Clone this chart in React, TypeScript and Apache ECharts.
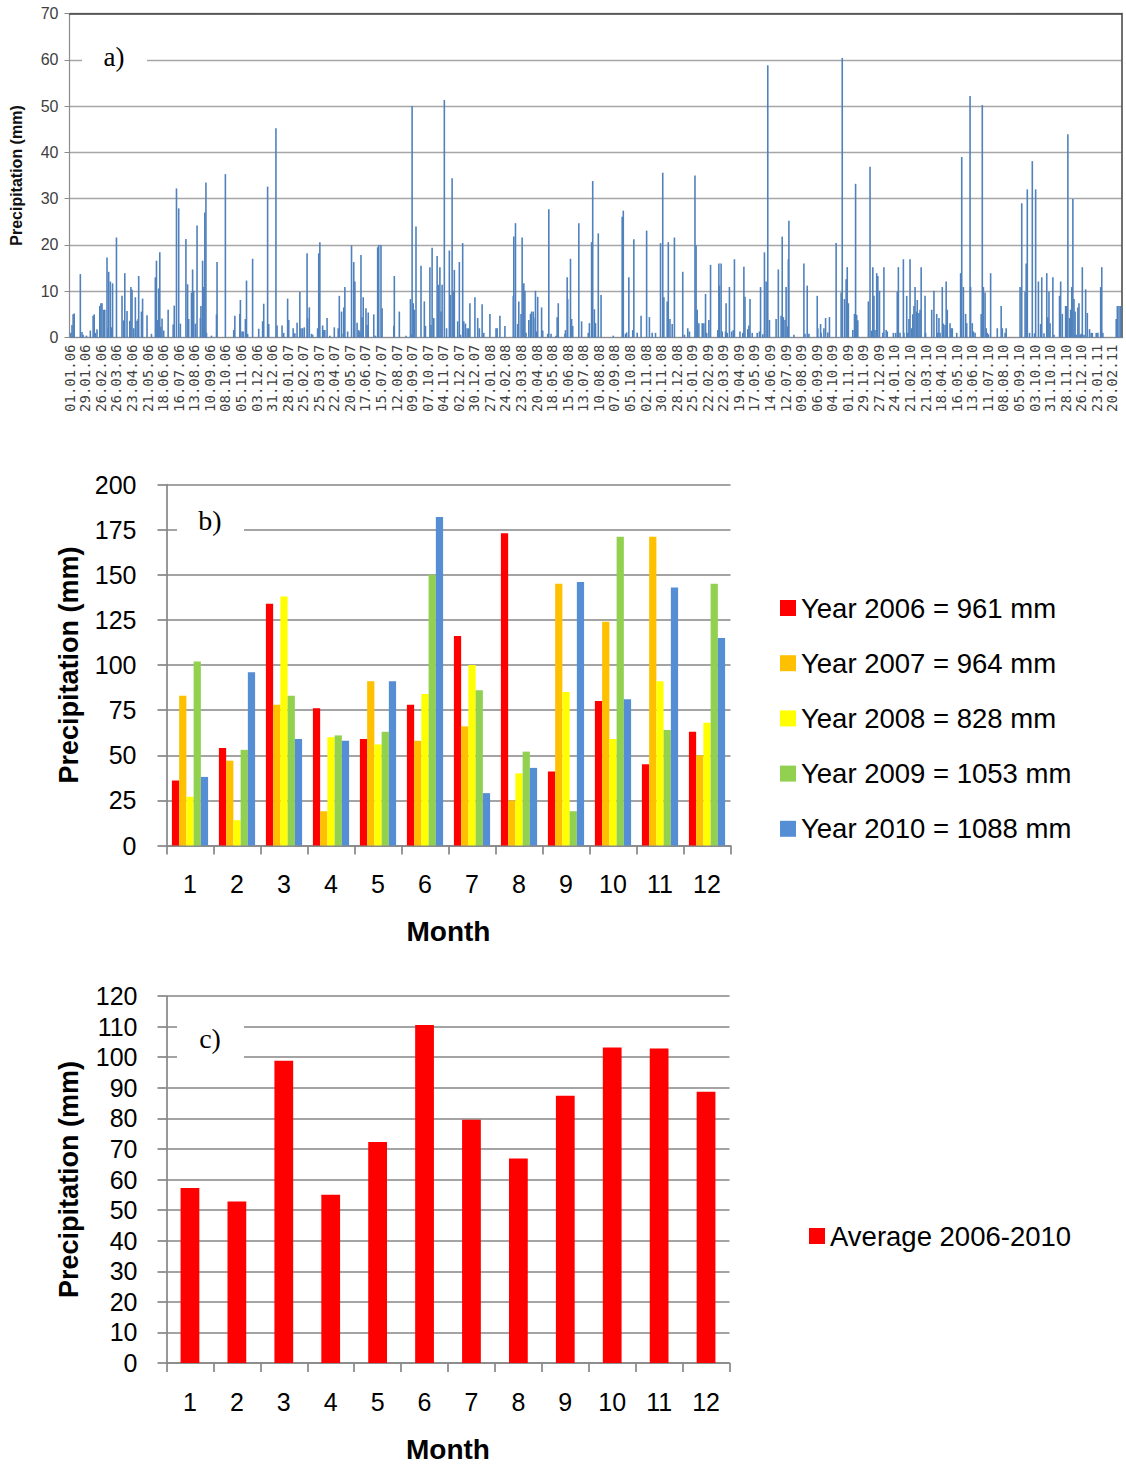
import React, { useEffect, useRef } from "react";
import * as echarts from "echarts";

// ---------- Panel a: daily precipitation (day index from 01.01.2006, mm) ----------
const START_UTC = Date.UTC(2006, 0, 1);
const DAY_COUNT = 1893;

const rain2006 = [
  [2, 1], [4, 2.7], [6, 5], [8, 5.2], [19, 13.7], [22, 1.2], [24, 0.6], [30, 0.4], [37, 1.5], [42, 4.7], [44, 5], [46, 1], [49, 1.8],
  [54, 6.8], [56, 7.4], [58, 7.4], [61, 6], [63, 6], [67, 17.3], [69, 2], [70, 14.2], [73, 12.1], [75, 2.2], [77, 11.7], [84, 21.6],
  [94, 9], [97, 3.7], [99, 13.9], [103, 5.7], [108, 3.6], [110, 10.9], [112, 10.3], [115, 2], [118, 8.7], [121, 3.6], [123, 4],
  [124, 13.3], [129, 5.6], [131, 8.4], [139, 4.8], [147, 0.8], [154, 13], [156, 16.6], [158, 3.8], [160, 10.6], [162, 18.4],
  [164, 2.3], [166, 4.1], [169, 1.5], [177, 6], [186, 2.8], [188, 6.9], [192, 32.2], [196, 27.9], [199, 3], [209, 21.3], [212, 11.5],
  [214, 4], [219, 9.7], [221, 14.7], [223, 10.1], [226, 3], [229, 24.2], [235, 4.2], [236, 6.8], [239, 16.6], [240, 10.9], [243, 27],
  [245, 33.5], [246, 1], [255, 0.4], [264, 5], [265, 16.3], [280, 35.3], [295, 1.6], [297, 4.7], [306, 5.1], [307, 8.1], [310, 1.3],
  [312, 1.3], [316, 4], [318, 12.3], [320, 0.8], [329, 17], [340, 1.9], [347, 3.5], [349, 7.3], [356, 32.6], [358, 2.9],
];
const rain2007 = [
  [371, 45.2], [373, 2.6], [382, 2.6], [385, 1], [392, 8.4], [394, 3.8], [402, 2], [405, 0.9], [409, 3.2], [414, 9.9], [416, 2],
  [419, 2], [422, 2.2], [427, 18.2], [428, 4.2], [431, 6.5], [435, 0.8], [437, 0.6], [446, 2], [448, 18.2], [450, 20.6], [455, 2.6],
  [457, 1.6], [459, 1.6], [463, 4.2], [468, 0.4], [476, 2.2], [483, 2], [485, 9], [489, 5.6], [492, 0.8], [493, 6.5], [495, 10.9],
  [500, 1.3], [507, 19.9], [511, 16.3], [513, 12.1], [517, 3.2], [520, 1.6], [522, 1.3], [524, 17.8], [526, 4.4], [528, 8.7],
  [533, 6.3], [535, 2.7], [537, 5.4], [547, 5], [550, 0.4], [554, 19.5], [556, 20], [560, 20], [562, 6.3], [583, 2.5], [584, 13.3],
  [593, 5.6], [605, 0.4], [613, 8.3], [615, 0.7], [616, 50], [618, 7.4], [620, 6], [623, 24], [632, 15.5], [638, 7.8], [640, 2.5],
  [648, 15.2], [650, 2.7], [652, 19.4], [655, 4.2], [661, 17.6], [663, 11.4], [666, 15.2], [668, 5.6], [670, 11.4], [674, 51.3],
  [678, 2], [683, 18.8], [685, 9.2], [688, 34.4], [690, 10.1], [692, 14.6], [698, 3.5], [701, 16.3], [703, 0.6], [707, 20.4],
  [709, 3.5], [712, 3], [715, 2], [718, 2], [720, 7.4], [729, 8.7],
];
const rain2008 = [
  [734, 4.2], [737, 2], [742, 7.2], [745, 1], [756, 5.1], [767, 2], [769, 2], [774, 4.7], [783, 2.5], [798, 9], [799, 21.8],
  [802, 24.7], [806, 2.9], [808, 7.8], [812, 5.1], [814, 21.6], [817, 11.7], [819, 10.1], [821, 1], [826, 3.8], [829, 5.1],
  [831, 5.6], [834, 5.6], [835, 4.3], [838, 10.1], [840, 1.3], [842, 8.8], [849, 6.5], [851, 1.5], [860, 0.8], [862, 27.7],
  [866, 0.8], [875, 0.4], [877, 4.4], [879, 7.4], [891, 0.8], [892, 1.6], [895, 13], [896, 8.3], [901, 17], [903, 4], [905, 2.5],
  [916, 24.7], [921, 3.5], [933, 1], [935, 3.1], [939, 20.6], [941, 33.8], [944, 6.1], [946, 3.1], [951, 22.5], [956, 9.2],
  [978, 0.4], [994, 26.1], [996, 27.4], [1000, 0.8], [1002, 1.1], [1006, 13], [1013, 1.6], [1015, 21.2], [1021, 1], [1028, 4.7],
  [1038, 23.1], [1043, 4.4], [1048, 1], [1054, 1], [1063, 20.4], [1067, 35.6], [1069, 8.7], [1075, 7.8], [1077, 20.6], [1080, 4],
  [1084, 2.9], [1088, 21.6],
];
const rain2009 = [
  [1103, 14.2], [1106, 0.6], [1112, 2], [1115, 1.3], [1125, 35], [1127, 19.9], [1129, 6], [1132, 3.1], [1138, 3.1], [1141, 3.1],
  [1144, 9.4], [1146, 1], [1150, 3.8], [1153, 15.7], [1166, 1.6], [1168, 16], [1169, 11.2], [1172, 16], [1174, 1.3], [1180, 1.3],
  [1181, 7.4], [1183, 1], [1187, 10.9], [1191, 1.3], [1194, 1.6], [1196, 16.9], [1206, 1.3], [1211, 1], [1213, 15.3], [1215, 8.8],
  [1220, 1.8], [1222, 2.6], [1224, 8.3], [1228, 1], [1237, 1], [1241, 1.3], [1243, 10.9], [1247, 0.7], [1250, 18.4], [1253, 12.1],
  [1256, 58.8], [1259, 3.8], [1271, 4], [1275, 14.7], [1280, 4.7], [1282, 21.8], [1284, 4.4], [1287, 3.8], [1289, 10.9],
  [1292, 2.4], [1293, 16.9], [1294, 25.2], [1303, 0.6], [1321, 16], [1323, 0.8], [1327, 11.2], [1330, 0.8], [1345, 9], [1346, 2],
  [1351, 2.9], [1352, 1], [1357, 2], [1360, 4.2], [1364, 1.1], [1367, 4.4], [1379, 20.4], [1388, 9.7], [1390, 60.4], [1394, 8.3],
  [1397, 12.6], [1399, 15.2], [1401, 7.4], [1409, 1.6], [1412, 5.1], [1414, 33.2], [1416, 4.9], [1418, 3.7], [1437, 7.8],
  [1440, 36.9], [1443, 1.5], [1445, 15.2], [1447, 9], [1449, 1.6], [1452, 13.9], [1454, 13.3], [1457, 10.1],
];
const rain2010 = [
  [1463, 1], [1465, 15.2], [1469, 1.6], [1471, 1.3], [1482, 1], [1486, 1], [1489, 9.9], [1491, 15.2], [1494, 1], [1500, 16.9],
  [1501, 1], [1506, 9], [1508, 1], [1510, 4], [1512, 16.9], [1515, 2], [1517, 5], [1519, 6.8], [1521, 10.9], [1524, 5.6],
  [1525, 8.1], [1528, 5.3], [1530, 6], [1532, 15.2], [1539, 9], [1540, 1], [1551, 6], [1555, 10.1], [1560, 5.1], [1562, 1],
  [1564, 4.2], [1566, 1], [1570, 10.9], [1572, 3], [1575, 2.7], [1577, 12.1], [1579, 6], [1584, 3.1], [1586, 2], [1588, 2],
  [1596, 1], [1603, 13.9], [1605, 39], [1608, 10.9], [1612, 5.1], [1614, 3.1], [1620, 52.2], [1621, 10.9], [1624, 3.1],
  [1626, 1.3], [1629, 1], [1640, 5.1], [1642, 50.2], [1644, 10.9], [1647, 9.7], [1649, 2], [1651, 1], [1653, 0.7], [1657, 13.9],
  [1669, 2], [1676, 6.8], [1678, 2], [1683, 1], [1685, 2], [1710, 10.9], [1713, 29], [1719, 9.9], [1721, 16], [1723, 32],
  [1727, 1], [1732, 38.1], [1736, 0.9], [1738, 32], [1743, 12.1], [1747, 2.9], [1749, 13], [1753, 0.9], [1758, 13.9], [1760, 4.4],
  [1762, 9.9], [1764, 3.1], [1769, 13], [1771, 0.6], [1781, 9], [1783, 12.1], [1786, 5.1], [1792, 6.8], [1794, 6.8], [1796, 43.9],
  [1799, 4.2], [1801, 6], [1803, 10.9], [1805, 29.9], [1807, 8.3], [1809, 5.6], [1811, 0.6], [1814, 6.5], [1816, 7.4], [1818, 0.6],
  [1820, 0.8], [1822, 15.2], [1825, 0.6],
];
const rain2011 = [
  [1828, 10.4], [1831, 5.3], [1835, 1.8], [1838, 1], [1840, 1], [1847, 1], [1850, 1], [1855, 10.9], [1857, 15.2], [1859, 1],
  [1883, 4], [1885, 6.8], [1888, 6.8], [1891, 6.8],
];

// ---------- Panel b: monthly totals per year ----------
const months = ["1", "2", "3", "4", "5", "6", "7", "8", "9", "10", "11", "12"];
const year2006 = [36, 54, 134, 76, 59, 78, 116, 173, 41, 80, 45, 63];
const year2007 = [83, 47, 78, 19, 91, 58, 66, 25, 145, 124, 171, 50];
const year2008 = [27, 14, 138, 60, 56, 84, 100, 40, 85, 59, 91, 68];
const year2009 = [102, 53, 83, 61, 63, 150, 86, 52, 19, 171, 64, 145];
const year2010 = [38, 96, 59, 58, 91, 182, 29, 43, 146, 81, 143, 115];
const yearNames = [
  "Year 2006 = 961 mm",
  "Year 2007 = 964 mm",
  "Year 2008 = 828 mm",
  "Year 2009 = 1053 mm",
  "Year 2010 = 1088 mm",
];
const yearColors = ["#FF0000", "#FFC000", "#FFFF00", "#92D050", "#558ED5"];

// ---------- Panel c: monthly average ----------
const average = [57.2, 52.8, 98.8, 55, 72.3, 110.5, 79.5, 66.9, 87.4, 103.2, 102.8, 88.7];
const averageName = "Average 2006-2010";

const pad = (n: number) => (n < 10 ? "0" + n : "" + n);

export default function App() {
  const ref = useRef<HTMLDivElement>(null);

  useEffect(() => {
    if (!ref.current) return;
    const chart = echarts.init(ref.current, null, { renderer: "svg" });

    const dayLabels: string[] = [];
    for (let i = 0; i < DAY_COUNT; i++) {
      const d = new Date(START_UTC + i * 86400000);
      dayLabels.push(
        pad(d.getUTCDate()) + "." + pad(d.getUTCMonth() + 1) + "." + pad(d.getUTCFullYear() % 100)
      );
    }
    const daily: (number | null)[] = new Array(DAY_COUNT).fill(null);
    [rain2006, rain2007, rain2008, rain2009, rain2010, rain2011].forEach((arr) =>
      arr.forEach(([day, mm]) => {
        daily[day] = mm;
      })
    );

    const sans = "Liberation Sans, Arial, sans-serif";
    const serif = "Liberation Serif, Times New Roman, serif";
    const gridGray = "#868686";

    const yearSeries = [year2006, year2007, year2008, year2009, year2010].map((vals, i) => ({
      type: "bar",
      name: yearNames[i],
      xAxisIndex: 2,
      yAxisIndex: 2,
      data: vals,
      barGap: "0%",
      barCategoryGap: "23%",
      itemStyle: { color: yearColors[i] },
    }));

    const option: any = {
      animation: false,
      backgroundColor: "#ffffff",
      grid: [
        { left: 69.5, top: 13.5, width: 1052, height: 324 },
        { left: 166.5, top: 484.5, width: 564, height: 361 },
        { left: 166.5, top: 996, width: 563, height: 367 },
      ],
      xAxis: [
        {
          gridIndex: 0,
          type: "category",
          data: dayLabels,
          boundaryGap: true,
          axisLine: { lineStyle: { color: "#8c8c8c", width: 1.2 } },
          axisTick: { interval: 27, length: 5, lineStyle: { color: "#8c8c8c" } },
          axisLabel: {
            interval: 27,
            rotate: 90,
            fontSize: 14,
            fontFamily: "DejaVu Sans Mono, monospace",
            color: "#404040",
            margin: 7,
          },
          splitLine: { show: false },
        },
        {
          gridIndex: 0,
          type: "value",
          position: "top",
          min: 0,
          max: 1,
          axisLine: { show: true, onZero: false, lineStyle: { color: "#404040", width: 1.5 } },
          axisTick: { show: false },
          axisLabel: { show: false },
          splitLine: { show: false },
        },
        {
          gridIndex: 1,
          type: "category",
          data: months,
          axisLine: { lineStyle: { color: gridGray, width: 1.7 } },
          axisTick: { show: true, interval: 0, length: 9, lineStyle: { color: gridGray, width: 1.7 } },
          axisLabel: { fontSize: 25, fontFamily: sans, color: "#000", margin: 26 },
          name: "Month",
          nameLocation: "middle",
          nameGap: 72,
          nameTextStyle: { fontSize: 28, fontWeight: "bold", fontFamily: sans, color: "#000" },
        },
        {
          gridIndex: 2,
          type: "category",
          data: months,
          axisLine: { lineStyle: { color: gridGray, width: 1.7 } },
          axisTick: { show: true, interval: 0, length: 9, lineStyle: { color: gridGray, width: 1.7 } },
          axisLabel: { fontSize: 25, fontFamily: sans, color: "#000", margin: 26 },
          name: "Month",
          nameLocation: "middle",
          nameGap: 72,
          nameTextStyle: { fontSize: 28, fontWeight: "bold", fontFamily: sans, color: "#000" },
        },
      ],
      yAxis: [
        {
          gridIndex: 0,
          type: "value",
          min: 0,
          max: 70,
          interval: 10,
          axisLine: { show: true, lineStyle: { color: "#8c8c8c", width: 1.2 } },
          axisTick: { show: true, length: 5, lineStyle: { color: "#8c8c8c" } },
          axisLabel: { fontSize: 16, fontFamily: sans, color: "#404040", margin: 11 },
          splitLine: { lineStyle: { color: "#a6a6a6", width: 1.3 } },
          name: "Precipitation (mm)",
          nameLocation: "middle",
          nameGap: 45,
          nameTextStyle: { fontSize: 16, fontWeight: "bold", fontFamily: sans, color: "#111" },
        },
        {
          gridIndex: 0,
          type: "value",
          position: "right",
          min: 0,
          max: 70,
          axisLine: { show: true, onZero: false, lineStyle: { color: "#404040", width: 1.5 } },
          axisTick: { show: false },
          axisLabel: { show: false },
          splitLine: { show: false },
        },
        {
          gridIndex: 1,
          type: "value",
          min: 0,
          max: 200,
          interval: 25,
          axisLine: { show: true, lineStyle: { color: gridGray, width: 1.7 } },
          axisTick: { show: true, length: 9, lineStyle: { color: gridGray, width: 1.7 } },
          axisLabel: { fontSize: 25, fontFamily: sans, color: "#000", margin: 30 },
          splitLine: { lineStyle: { color: gridGray, width: 1.7 } },
          name: "Precipitation (mm)",
          nameLocation: "middle",
          nameGap: 84,
          nameTextStyle: { fontSize: 27, fontWeight: "bold", fontFamily: sans, color: "#000" },
        },
        {
          gridIndex: 2,
          type: "value",
          min: 0,
          max: 120,
          interval: 10,
          axisLine: { show: true, lineStyle: { color: gridGray, width: 1.7 } },
          axisTick: { show: true, length: 9, lineStyle: { color: gridGray, width: 1.7 } },
          axisLabel: { fontSize: 25, fontFamily: sans, color: "#000", margin: 29 },
          splitLine: { lineStyle: { color: gridGray, width: 1.7 } },
          name: "Precipitation (mm)",
          nameLocation: "middle",
          nameGap: 84,
          nameTextStyle: { fontSize: 27, fontWeight: "bold", fontFamily: sans, color: "#000" },
        },
      ],
      legend: [
        {
          data: yearNames,
          orient: "vertical",
          left: 780,
          top: 594,
          padding: 0,
          itemWidth: 16,
          itemHeight: 16,
          itemGap: 27.2,
          icon: "rect",
          selectedMode: false,
          textStyle: { fontSize: 27.5, fontFamily: sans, color: "#000", lineHeight: 26 },
        },
        {
          data: [averageName],
          orient: "vertical",
          left: 809,
          top: 1222,
          padding: 0,
          itemWidth: 16,
          itemHeight: 16,
          icon: "rect",
          selectedMode: false,
          textStyle: { fontSize: 27.5, fontFamily: sans, color: "#000", lineHeight: 26 },
        },
      ],
      graphic: [
        { type: "rect", z: 100, shape: { x: 82, y: 32, width: 65, height: 52 }, style: { fill: "#fff" } },
        {
          type: "text", z: 101, x: 114, y: 57,
          style: { text: "a)", font: "27px " + serif, fill: "#000", align: "center", verticalAlign: "middle" },
        },
        { type: "rect", z: 100, shape: { x: 177, y: 498, width: 67, height: 60 }, style: { fill: "#fff" } },
        {
          type: "text", z: 101, x: 210, y: 520,
          style: { text: "b)", font: "28px " + serif, fill: "#000", align: "center", verticalAlign: "middle" },
        },
        { type: "rect", z: 100, shape: { x: 177, y: 1010, width: 67, height: 60 }, style: { fill: "#fff" } },
        {
          type: "text", z: 101, x: 210, y: 1038,
          style: { text: "c)", font: "28px " + serif, fill: "#000", align: "center", verticalAlign: "middle" },
        },
      ],
      series: [
        {
          type: "bar",
          name: "Daily precipitation",
          xAxisIndex: 0,
          yAxisIndex: 0,
          data: daily,
          barWidth: 1.6,
          itemStyle: { color: "#4F81BD" },
        },
        ...yearSeries,
        {
          type: "bar",
          name: averageName,
          xAxisIndex: 3,
          yAxisIndex: 3,
          data: average,
          barCategoryGap: "60%",
          itemStyle: { color: "#FF0000" },
        },
      ],
    };

    chart.setOption(option);
    return () => chart.dispose();
  }, []);

  return (
    <div
      ref={ref}
      style={{ position: "absolute", left: 0, top: 0, width: 1126, height: 1464, background: "#fff" }}
    />
  );
}
